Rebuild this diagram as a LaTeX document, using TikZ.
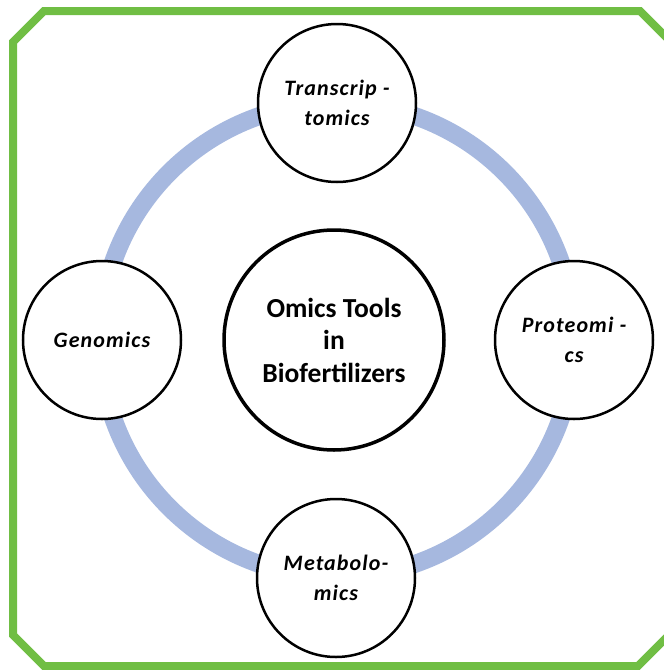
\documentclass[tikz,border=0pt]{standalone}
\usepackage{fontspec}
\setmainfont{Carlito}
\newfontfamily\labfont[LetterSpace=5]{Carlito}
\definecolor{framegreen}{RGB}{112,190,68}
\definecolor{ringblue}{RGB}{166,184,223}
\begin{document}
\begin{tikzpicture}[x=1pt,y=-1pt,
  omic/.style={circle,draw=black,line width=2.5pt,fill=white,minimum size=158pt,inner sep=0pt,align=center,
    font=\labfont\fontsize{22}{30}\selectfont\bfseries\itshape},
  hub/.style={circle,draw=black,line width=3.5pt,fill=white,minimum size=220pt,inner sep=0pt,align=center,
    font=\fontsize{27.5}{32.5}\selectfont\bfseries},
  frame/.style={draw=framegreen,line width=8pt,line join=miter}]
\useasboundingbox (0,0) rectangle (664,670);
\clip (0,0) rectangle (664,670);
\draw[frame] (13,42) -- (44,11) -- (640,11) -- (674,45) -- (674,630) -- (638,666) -- (44,666) -- (13,635) -- cycle;
\coordinate (ringc) at (337,340);
\draw[ringblue,line width=18pt] (ringc) circle[radius=237];
\node[hub] (hub) at (334,340) {Omics Tools\\in\\Biofertilizers};
\node[omic] (trans) at (337,103) {Transcrip -\\tomics};
\node[omic] (gen) at (102,340) {Genomics};
\node[omic] (prot) at (574,340) {Proteomi -\\cs};
\node[omic] (meta) at (336,578) {Metabolo-\\mics};
\end{tikzpicture}
\end{document}
